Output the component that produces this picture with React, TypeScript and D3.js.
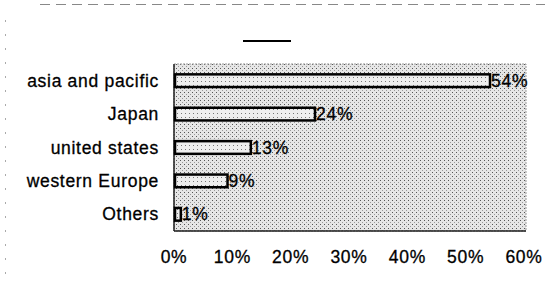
import React from "react";
import * as d3 from "d3";

const categories = ["asia and pacific", "Japan", "united states", "western Europe", "Others"];
const values = [54, 24, 13, 9, 1];
const ticks = [0, 10, 20, 30, 40, 50, 60];

export default function App() {
  const W = 551, H = 284;
  const left = 174, right = 526, top = 64, bottom = 231;
  const x = d3.scaleLinear().domain([0, 60]).range([left, 524]);
  const y = d3.scaleBand().domain(categories).range([top, bottom]).paddingInner(0.62).paddingOuter(0.31);
  const font = "'Liberation Sans', Arial, sans-serif";
  const fs = 17.5;
  const ls = 0.7;
  return (
    <svg width={W} height={H} style={{ position: "absolute", left: 0, top: 0 }}>
      <defs>
        <pattern id="stip" width="4" height="4" patternUnits="userSpaceOnUse">
          <rect width="4" height="4" fill="#e6e6e6" />
          <rect x="0" y="0" width="1" height="1" fill="#555" />
          <rect x="2" y="2" width="1" height="1" fill="#999" />
        </pattern>
        <pattern id="stip2" width="4" height="4" patternUnits="userSpaceOnUse">
          <rect width="4" height="4" fill="#eeeeee" />
          <rect x="1" y="1" width="1" height="1" fill="#777" />
        </pattern>
      </defs>
      <rect x={0} y={0} width={W} height={H} fill="#fff" />
      <line x1={40} x2={545} y1={4.5} y2={4.5} stroke="#888" strokeDasharray="10 6" strokeWidth={1.2} />
      <line x1={5.5} x2={5.5} y1={20} y2={280} stroke="#aaa" strokeDasharray="2 12" strokeWidth={1} />
      <line x1={243} x2={291} y1={41} y2={41} stroke="#000" strokeWidth={2} />
      <rect x={left} y={top} width={right - left} height={bottom - top} fill="url(#stip)" stroke="#999" strokeWidth={1} strokeDasharray="2 1" />
      <line x1={left} x2={left} y1={top} y2={bottom} stroke="#222" strokeWidth={1.5} />
      <line x1={left} x2={right} y1={bottom} y2={bottom} stroke="#222" strokeWidth={1.5} />
      {categories.map((c, i) => {
        const by = y(c)!;
        const bh = y.bandwidth();
        return (
          <g key={c}>
            <rect x={x(0) + 1} y={by} width={x(values[i]) - x(0)} height={bh} fill="url(#stip2)" stroke="#000" strokeWidth={2.5} />
            <text x={159} y={by + bh / 2} dy="0.35em" textAnchor="end" fontFamily={font} fontSize={fs} letterSpacing={ls} fill="#000" stroke="#000" strokeWidth={0.3}>{c}</text>
            <text x={x(values[i]) + 2} y={by + bh / 2} dy="0.35em" textAnchor="start" fontFamily={font} fontSize={fs} letterSpacing={ls} fill="#000" stroke="#000" strokeWidth={0.3}>{values[i]}%</text>
          </g>
        );
      })}
      {ticks.map(t => (
        <text key={t} x={x(t)} y={263} textAnchor="middle" fontFamily={font} fontSize={fs} letterSpacing={ls} fill="#000" stroke="#000" strokeWidth={0.3}>{t}%</text>
      ))}
    </svg>
  );
}
